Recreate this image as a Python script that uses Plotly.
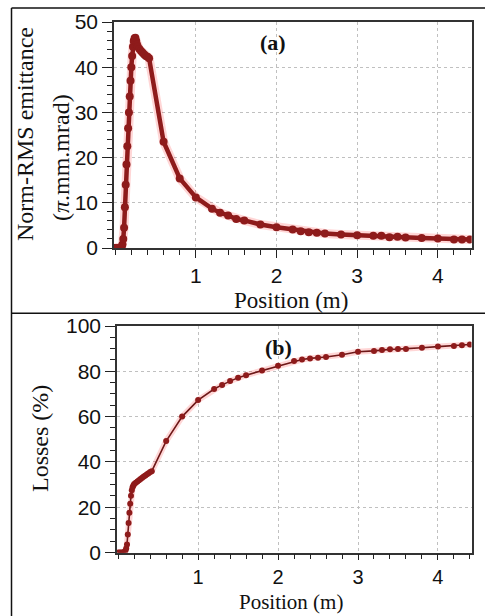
import plotly.graph_objects as go

# Panel (a): normalized RMS emittance vs position
emit_x = [0.0, 0.02, 0.04, 0.06, 0.08, 0.09, 0.10, 0.11, 0.12, 0.13, 0.14, 0.15, 0.16,
          0.17, 0.18, 0.19, 0.20, 0.21, 0.22, 0.23, 0.24, 0.25, 0.26, 0.27, 0.28, 0.30,
          0.32, 0.34, 0.36, 0.38, 0.40, 0.42, 0.6, 0.8, 1.0, 1.2, 1.3, 1.4, 1.5, 1.6,
          1.8, 2.0, 2.2, 2.3, 2.4, 2.5, 2.6, 2.8, 3.0, 3.2, 3.3, 3.4, 3.5, 3.6, 3.8,
          4.0, 4.2, 4.3, 4.4]
emit_y = [0.0, 0.0, 0.0, 0.1, 0.3, 0.8, 2.0, 4.5, 9.0, 14.0, 18.5, 22.5, 26.5,
          30.0, 33.5, 37.0, 40.0, 42.5, 44.5, 45.8, 46.4, 46.5, 45.8, 45.0, 44.5, 44.0,
          43.6, 43.2, 42.8, 42.5, 42.3, 42.0, 23.5, 15.4, 11.2, 8.7, 7.8, 7.2, 6.4, 6.1,
          5.2, 4.6, 4.1, 3.7, 3.5, 3.4, 3.2, 3.0, 2.8, 2.7, 2.7, 2.4, 2.5, 2.3, 2.2,
          2.1, 1.9, 1.9, 1.9]

# Panel (b): losses vs position
loss_x = [0.0, 0.02, 0.04, 0.06, 0.08, 0.09, 0.10, 0.11, 0.12, 0.13, 0.14, 0.15, 0.16,
          0.17, 0.18, 0.19, 0.20, 0.22, 0.24, 0.26, 0.28, 0.30, 0.32, 0.34, 0.36, 0.38,
          0.40, 0.42, 0.6, 0.8, 1.0, 1.2, 1.3, 1.4, 1.5, 1.6, 1.8, 2.0, 2.2, 2.3, 2.4,
          2.5, 2.6, 2.8, 3.0, 3.2, 3.3, 3.4, 3.5, 3.6, 3.8, 4.0, 4.2, 4.3, 4.4]
loss_y = [0.0, 0.0, 0.0, 0.0, 0.3, 0.8, 1.8, 3.5, 8.0, 13.0, 17.5, 21.5, 25.0,
          27.5, 28.8, 29.6, 30.2, 30.8, 31.3, 31.9, 32.5, 33.0, 33.5, 34.0, 34.5, 35.0,
          35.5, 35.9, 49.2, 60.0, 67.3, 72.2, 74.0, 75.7, 77.2, 78.3, 80.3, 82.5, 84.5, 85.2, 85.7,
          86.0, 86.3, 87.3, 88.6, 89.0, 89.4, 89.7, 89.8, 89.9, 90.4, 90.9, 91.2, 91.5, 91.8]

x_tickvals = [1, 2, 3, 4]
emit_tickvals = [0, 10, 20, 30, 40, 50]
loss_tickvals = [0, 20, 40, 60, 80, 100]

W, H = 485, 616
DARK = "#8e1b1b"
GLOW = "rgba(255,30,30,0.18)"

fig = go.Figure()
fig.add_trace(go.Scatter(x=emit_x, y=emit_y, mode="lines", line=dict(color=GLOW, width=9),
                         hoverinfo="skip", xaxis="x", yaxis="y", showlegend=False))
fig.add_trace(go.Scatter(x=emit_x, y=emit_y, mode="lines+markers",
                         line=dict(color=DARK, width=4.5),
                         marker=dict(color=DARK, size=8, symbol="circle"),
                         xaxis="x", yaxis="y", showlegend=False))
fig.add_trace(go.Scatter(x=loss_x, y=loss_y, mode="lines", line=dict(color=GLOW, width=6),
                         hoverinfo="skip", xaxis="x2", yaxis="y2", showlegend=False))
fig.add_trace(go.Scatter(x=loss_x, y=loss_y, mode="lines+markers",
                         line=dict(color="#6e1818", width=1.6),
                         marker=dict(color=DARK, size=6, symbol="circle"),
                         xaxis="x2", yaxis="y2", showlegend=False))

serif = "Liberation Serif, Times New Roman, serif"

def tf(size):
    return dict(family="Liberation Sans, Arial, sans-serif", size=size, color="#111")

def xaxis_cfg(domain, anchor, fsize, tlen):
    return dict(domain=domain, anchor=anchor, range=[-0.015, 4.42], automargin=False,
                tickmode="array", tickvals=x_tickvals, ticktext=[str(v) for v in x_tickvals],
                ticks="outside", ticklen=tlen, tickwidth=1.3, tickcolor="#222",
                tickfont=tf(fsize),
                showline=True, linecolor="#333", linewidth=1.5, mirror=True,
                showgrid=True, gridcolor="#c0c0c0", griddash="dot", gridwidth=1,
                zeroline=False,
                minor=dict(dtick=0.2, tick0=0, ticks="outside", ticklen=5,
                           tickcolor="#222", tickwidth=1.2, showgrid=False))

def yaxis_cfg(domain, anchor, rng, tv, mdt):
    return dict(domain=domain, anchor=anchor, range=rng, automargin=False,
                tickmode="array", tickvals=tv, ticktext=[str(v) for v in tv],
                ticks="outside", ticklen=10, tickwidth=1.3, tickcolor="#222",
                tickfont=tf(21),
                showline=True, linecolor="#333", linewidth=1.5, mirror=True,
                showgrid=True, gridcolor="#c0c0c0", griddash="dot", gridwidth=1,
                zeroline=False,
                minor=dict(dtick=mdt, tick0=0, ticks="outside", ticklen=5,
                           tickcolor="#222", tickwidth=1.2, showgrid=False))

fig.update_layout(
    width=W, height=H,
    margin=dict(l=0, r=0, t=0, b=0, pad=0),
    paper_bgcolor="white", plot_bgcolor="white",
    xaxis=xaxis_cfg([114 / W, 471.7 / W], "y", 21, 8),
    yaxis=yaxis_cfg([1 - 248 / H, 1 - 22 / H], "x", [0, 50], emit_tickvals, 2),
    xaxis2=xaxis_cfg([117 / W, 471.5 / W], "y2", 20, 6),
    yaxis2=yaxis_cfg([1 - 552.5 / H, 1 - 326 / H], "x2", [0, 100], loss_tickvals, 5),
)

def ann(text, px, py, size, angle=0, bold=False):
    return dict(text=f"<b>{text}</b>" if bold else text, xref="paper", yref="paper",
                x=px / W, y=1 - py / H, xanchor="center", yanchor="middle",
                showarrow=False, textangle=angle, borderpad=0,
                font=dict(family=serif, size=size, color="#111"))

fig.update_layout(annotations=[
    ann("(a)", 273, 43, 22, bold=True),
    ann("(b)", 278, 347, 22, bold=True),
    ann("Position (m)", 291, 300, 23),
    ann("Position (m)", 291, 602, 21),
    ann("Norm-RMS emittance", 25, 134, 24, angle=-90),
    ann("(<i>π</i>.mm.mrad)", 61, 158, 24, angle=-90),
    ann("Losses (%)", 40, 439, 24, angle=-90),
])

fig.update_layout(shapes=[
    dict(type="line", xref="paper", yref="paper", x0=11.5 / W, x1=1.02,
         y0=1 - 8 / H, y1=1 - 8 / H, line=dict(color="#111", width=1.5)),
    dict(type="line", xref="paper", yref="paper", x0=11.5 / W, x1=11.5 / W,
         y0=1 - 8 / H, y1=-0.02, line=dict(color="#111", width=1.5)),
    dict(type="line", xref="paper", yref="paper", x0=11.5 / W, x1=1.02,
         y0=1 - 313.3 / H, y1=1 - 313.3 / H, line=dict(color="#111", width=1.5)),
])

fig.write_html("out.html", config={"displayModeBar": False},
               post_script="document.body.style.margin='0';")
